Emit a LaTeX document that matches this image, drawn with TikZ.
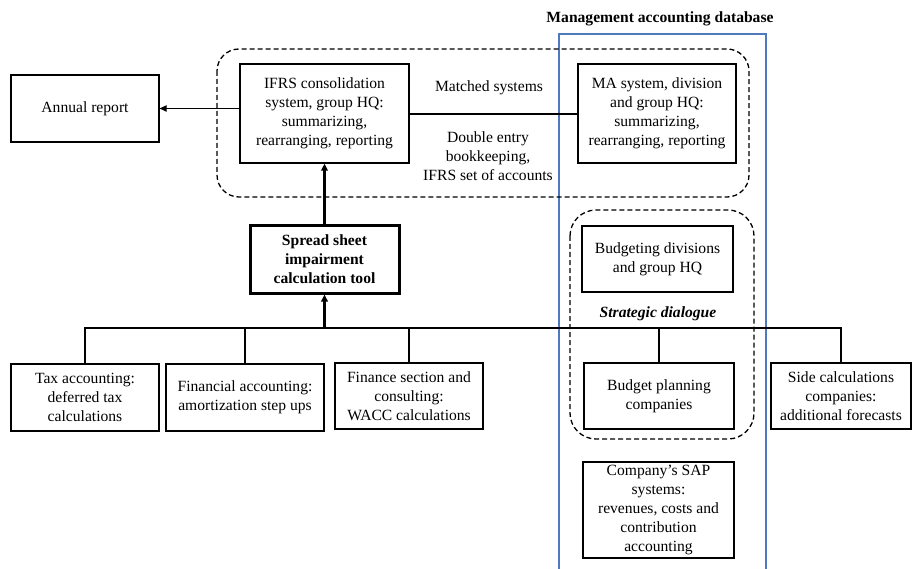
\documentclass[tikz,border=0pt]{standalone}
\usepackage{fontspec}
\setmainfont{Liberation Serif}
\usetikzlibrary{arrows.meta}
\definecolor{dbblue}{RGB}{79,120,190}
\tikzset{
  box/.style={draw, line width=1.3pt, align=center, inner sep=0pt, font=\fontsize{15.6}{19}\selectfont},
  lbl/.style={align=center, inner sep=0pt, font=\fontsize{15.6}{19}\selectfont},
  conn/.style={line width=1.3pt},
  thickconn/.style={line width=2.6pt},
  tip/.style={-{Triangle[length=7pt,width=6.5pt]}},
  grp/.style={dashed, dash pattern=on 5pt off 3pt, line width=1.3pt},
}
\begin{document}
\begin{tikzpicture}[x=1pt,y=-1pt]
\useasboundingbox (0,0) rectangle (912,569);
% management accounting database frame
\draw[dbblue, line width=1.2pt] (559,569) -- (559,34) -- (766,34) -- (766,569);
\node[lbl, font=\fontsize{15.6}{19}\selectfont\bfseries] (title) at (660,19) {Management accounting database};
% dashed groups
\draw[grp, rounded corners=22pt] (217,49) rectangle (749,197);
\draw[grp, rounded corners=26pt] (570,210) rectangle (754,439);
% nodes
\node[box, minimum width=148pt, minimum height=67pt] (annual) at (85,108.5) {Annual report};
\node[box, minimum width=169pt, minimum height=99pt] (ifrs) at (324.5,113.5) {IFRS consolidation\\system, group HQ:\\summarizing,\\rearranging, reporting};
\node[box, minimum width=158pt, minimum height=99pt] (ma) at (657,113.5) {MA system, division\\and group HQ:\\summarizing,\\rearranging, reporting};
\node[box, line width=3pt, minimum width=149pt, minimum height=67pt, font=\fontsize{15.6}{19}\selectfont\bfseries] (sheet) at (324.5,259.5) {Spread sheet\\impairment\\calculation tool};
\node[box, minimum width=148pt, minimum height=67pt] (tax) at (85,397.5) {Tax accounting:\\deferred tax\\calculations};
\node[box, minimum width=158pt, minimum height=67pt] (fin) at (245,397.5) {Financial accounting:\\amortization step ups};
\node[box, minimum width=148pt, minimum height=66pt] (wacc) at (409,396) {Finance section and\\consulting:\\WACC calculations};
\node[box, minimum width=151pt, minimum height=66pt] (budg) at (657.5,259) {Budgeting divisions\\and group HQ};
\node[box, minimum width=150pt, minimum height=66pt] (bplan) at (659,396) {Budget planning\\companies};
\node[box, minimum width=140pt, minimum height=66pt] (side) at (841,396) {Side calculations\\companies:\\additional forecasts};
\node[box, minimum width=151pt, minimum height=96pt, font=\fontsize{15.6}{18.8}\selectfont] (sap) at (658.5,510) {Company’s SAP\\systems:\\revenues, costs and\\contribution\\accounting};
% labels
\node[lbl] (matched) at (489,88) {Matched systems};
\node[lbl] (double) at (488,156) {Double entry\\bookkeeping,\\IFRS set of accounts};
\node[lbl, font=\fontsize{15.6}{19}\selectfont\bfseries\itshape] (strat) at (658,314) {Strategic dialogue};
% connectors
\coordinate (bus) at (324.5,328);
\draw[conn, tip] (ifrs.west |- annual.east) -- (annual.east);
\draw[conn] (ifrs.east |- 0,114) -- (ma.west |- 0,114);
\draw[thickconn, tip] (sheet.north) -- (ifrs.south);
\draw[thickconn, tip] (bus) -- (sheet.south);
\draw[conn, line width=2pt] (tax.north) |- (bus);
\draw[conn, line width=2pt] (side.north) |- (bus);
\draw[conn, line width=2pt] (fin.north) -- (fin.north |- bus);
\draw[conn, line width=2pt] (wacc.north) -- (wacc.north |- bus);
\draw[conn, line width=2pt] (bplan.north) -- (bplan.north |- bus);
\end{tikzpicture}
\end{document}
